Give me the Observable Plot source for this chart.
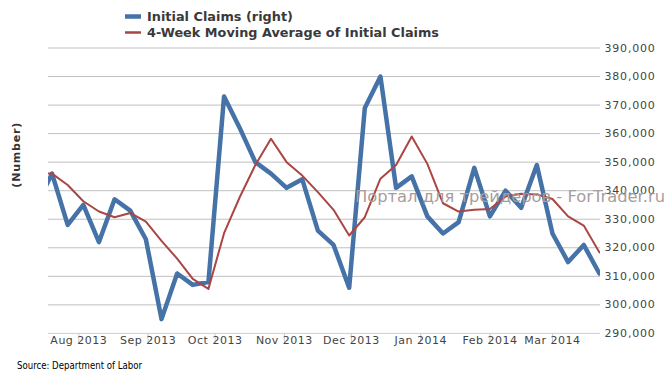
<!DOCTYPE html>
<html><head><meta charset="utf-8">
<script src="https://cdn.jsdelivr.net/npm/d3@7"></script>
<script src="https://cdn.jsdelivr.net/npm/@observablehq/plot@0.6"></script>
<style>
html,body{margin:0;padding:0;background:#fff;}
#wrap{position:relative;width:671px;height:371px;overflow:hidden;font-family:"DejaVu Sans",sans-serif;}
#wrap svg{display:block;}
#overlay{position:absolute;left:0;top:0;pointer-events:none;}
#chart g[aria-label="y-axis tick label"] text{letter-spacing:0.8px;}
#chart g[aria-label="x-axis tick label"] text{letter-spacing:0.5px;}
#chart g[aria-label="text"] text{letter-spacing:0.8px;}
</style></head><body><div id="wrap"></div>
<script>
const weeks = ["2013-07-13","2013-07-20","2013-07-27","2013-08-03","2013-08-10","2013-08-17","2013-08-24","2013-08-31",
  "2013-09-07","2013-09-14","2013-09-21","2013-09-28","2013-10-05","2013-10-12","2013-10-19","2013-10-26",
  "2013-11-02","2013-11-09","2013-11-16","2013-11-23","2013-11-30","2013-12-07","2013-12-14","2013-12-21","2013-12-28",
  "2014-01-04","2014-01-11","2014-01-18","2014-01-25","2014-02-01","2014-02-08","2014-02-15","2014-02-22",
  "2014-03-01","2014-03-08","2014-03-15","2014-03-22"];
const initialClaims = [335000,346000,328000,335000,322000,337000,333000,323000,
  295000,311000,307000,308000,373000,362000,350000,346000,
  341000,344000,326000,321000,306000,369000,380000,341000,345000,
  331000,325000,329000,348000,331000,340000,334000,349000,
  325000,315000,321000,311000];
const movingAverage = [346000,346000,342000,336300,332700,330700,332200,329200,
  322400,316200,309100,305600,325100,337700,349000,358200,
  350000,345300,339500,333300,324300,330700,344200,349000,359000,
  349400,335600,332700,333300,333600,338000,338900,338700,
  337100,331000,327800,318400];
const yTicks = [290000,300000,310000,320000,330000,340000,350000,360000,370000,380000,390000];
const monthTicks = ["2013-08-01","2013-09-01","2013-10-01","2013-11-01","2013-12-01","2014-01-01","2014-02-01","2014-03-01"];
const xDomain = ["2013-07-18T10:00","2014-03-22T12:00"];
const seriesNames = ["Initial Claims (right)","4-Week Moving Average of Initial Claims"];
const seriesColors = ["#4572A7","#AA4643"];
const yTitle = "(Number)";
const sourceText = "Source: Department of Labor";
const watermarkText = "Портал для трейдеров - ForTrader.ru";

const parse = d3.utcParse("%Y-%m-%d");
const parseT = d3.utcParse("%Y-%m-%dT%H:%M");
const rows = weeks.map((w, i) => ({date: parse(w), claims: initialClaims[i], avg: movingAverage[i]}));
const months = monthTicks.map(parse);

const wrap = document.getElementById("wrap");
const NS = "http://www.w3.org/2000/svg";
function el(tag, attrs, parent) {
  const e = document.createElementNS(NS, tag);
  for (const k in attrs) e.setAttribute(k, attrs[k]);
  if (parent) parent.appendChild(e);
  return e;
}

// Legend
const legend = el("svg", {width: 671, height: 40});
const legendY = [16.5, 32.5];
const swatchH = [4.5, 2.5];
const legendLen = [146, 292];
seriesNames.forEach((name, i) => {
  el("rect", {x: 125, y: legendY[i] - swatchH[i] / 2, width: 16, height: swatchH[i], fill: seriesColors[i]}, legend);
  const t = el("text", {x: 147, y: legendY[i] + 4.3, "font-size": "12.5px", "font-weight": "bold", fill: "#3a3a3a",
    "font-family": "DejaVu Sans, sans-serif", textLength: legendLen[i], lengthAdjust: "spacingAndGlyphs"}, legend);
  t.textContent = name;
});
wrap.appendChild(legend);

// Chart
const chart = Plot.plot({
  width: 671, height: 315,
  marginTop: 7.5, marginBottom: 22.1, marginLeft: 48, marginRight: 71,
  style: {fontFamily: "DejaVu Sans, sans-serif", fontSize: "11px", color: "#555", background: "transparent", overflow: "visible"},
  x: {type: "utc", domain: xDomain.map(parseT)},
  y: {domain: [yTicks[0], yTicks[yTicks.length - 1]]},
  marks: [
    Plot.gridY(yTicks.slice(1), {stroke: "#c0c0c0", strokeOpacity: 1, strokeWidth: 1}),
    Plot.ruleY([yTicks[0]], {stroke: "#c0d0e0", strokeWidth: 1}),
    Plot.axisX({ticks: months, tickSize: 10, tickPadding: 0, stroke: "#c0d0e0", strokeOpacity: 1, tickFormat: () => "", label: null}),
    Plot.axisX({ticks: months, tickSize: 0, tickPadding: 2.5, tickFormat: d3.utcFormat("%b %Y"), fill: "#444", label: null}),
    Plot.axisY({ticks: yTicks, anchor: "right", tickSize: 0, tickPadding: 4, tickFormat: d3.format(","), fill: "#444", label: null}),
    Plot.line(rows, {x: "date", y: "claims", stroke: seriesColors[0], strokeWidth: 4.5, clip: true}),
    Plot.line(rows, {x: "date", y: "avg", stroke: seriesColors[1], strokeWidth: 2, clip: true}),
    Plot.text([yTitle], {frameAnchor: "left", dx: -32, dy: -3, rotate: -90, fontWeight: "bold", fill: "#333", fontSize: 11})
  ]
});
chart.id = "chart";
wrap.appendChild(chart);

// Source
const src = el("svg", {width: 671, height: 16});
const st = el("text", {x: 17, y: 14, "font-size": "10.5px", fill: "#000",
  "font-family": "Liberation Sans Narrow, DejaVu Sans Condensed, sans-serif", textLength: 125, lengthAdjust: "spacingAndGlyphs"}, src);
st.textContent = sourceText;
wrap.appendChild(src);

// Watermark overlay
const ov = el("svg", {id: "overlay", width: 671, height: 371});
const wt = el("text", {x: 355, y: 201.5, "font-size": "16px", fill: "#a89c9c",
  "font-family": "DejaVu Sans, sans-serif", textLength: 310, lengthAdjust: "spacingAndGlyphs"}, ov);
wt.textContent = watermarkText;
wrap.appendChild(ov);
</script></body></html>
